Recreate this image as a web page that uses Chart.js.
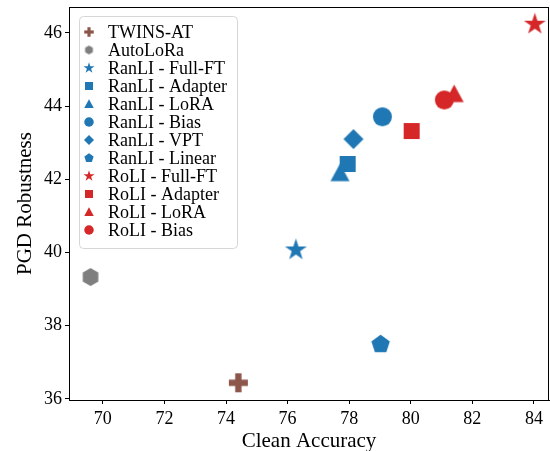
<!DOCTYPE html>
<html>
<head>
<meta charset="utf-8">
<script src="https://cdn.jsdelivr.net/npm/chart.js@4/dist/chart.umd.min.js"></script>
<style>
  html, body { margin: 0; padding: 0; background: #fff; }
</style>
</head>
<body>
<canvas id="chart" width="550" height="451"></canvas>
<script>
// values
const methods = [
  'TWINS-AT', 'AutoLoRa',
  'RanLI - Full-FT', 'RanLI - Adapter', 'RanLI - LoRA', 'RanLI - Bias', 'RanLI - VPT', 'RanLI - Linear',
  'RoLI - Full-FT', 'RoLI - Adapter', 'RoLI - LoRA', 'RoLI - Bias'
];
const cleanAccuracy = [74.4, 69.6, 76.27, 77.95, 77.7, 79.08, 78.14, 79.02, 84.03, 80.03, 81.41, 81.09];
const pgdRobustness = [36.44, 39.33, 40.07, 42.42, 42.17, 43.71, 43.1, 37.49, 46.24, 43.32, 44.33, 44.17];
const markerShapes = ['plus', 'hexagon', 'star', 'square', 'triangle', 'circle', 'diamond', 'pentagon', 'star', 'square', 'triangle', 'circle'];
const markerColors = ['#8c564b', '#7f7f7f', '#1f77b4', '#1f77b4', '#1f77b4', '#1f77b4', '#1f77b4', '#1f77b4', '#d62728', '#d62728', '#d62728', '#d62728'];
const xTicks = [70, 72, 74, 76, 78, 80, 82, 84];
const yTicks = [36, 38, 40, 42, 44, 46];

const FONT = 'Liberation Serif';
const markerSize = { plus: 19, hexagon: 18, star: 23, square: 16, triangle: 19, circle: 19, diamond: 20, pentagon: 19 };

function polygon(ctx, c, r, n, inner, rot) {
  ctx.beginPath();
  const pts = inner ? n * 2 : n;
  for (let k = 0; k < pts; k++) {
    const a = rot + k * Math.PI * 2 / pts;
    const rr = inner && k % 2 ? r * inner : r;
    const px = c + rr * Math.sin(a), py = c - rr * Math.cos(a);
    k ? ctx.lineTo(px, py) : ctx.moveTo(px, py);
  }
  ctx.closePath();
  ctx.fill();
}

function makeMarker(shape, color, size) {
  const s = Math.ceil(size) + 2;
  const cv = document.createElement('canvas');
  cv.width = s; cv.height = s;
  const ctx = cv.getContext('2d');
  ctx.fillStyle = color;
  const c = s / 2, r = size / 2;
  if (shape === 'circle') {
    ctx.beginPath(); ctx.arc(c, c, r, 0, Math.PI * 2); ctx.fill();
  } else if (shape === 'square') {
    ctx.fillRect(c - r, c - r, size, size);
  } else if (shape === 'plus') {
    const t = size / 3;
    ctx.fillRect(c - t / 2, c - r, t, size);
    ctx.fillRect(c - r, c - t / 2, size, t);
  } else if (shape === 'triangle') {
    ctx.beginPath();
    ctx.moveTo(c, c - r); ctx.lineTo(c + r, c + r * 0.85); ctx.lineTo(c - r, c + r * 0.85);
    ctx.closePath(); ctx.fill();
  } else if (shape === 'diamond') {
    polygon(ctx, c, r, 4, 0, 0);
  } else if (shape === 'pentagon') {
    polygon(ctx, c, r * 1.02, 5, 0, 0);
  } else if (shape === 'hexagon') {
    polygon(ctx, c, r, 6, 0, 0);
  } else if (shape === 'star') {
    polygon(ctx, c, r, 5, 0.382, 0);
  }
  return cv;
}

const datasets = methods.map((m, i) => {
  const size = markerSize[markerShapes[i]];
  return {
    label: m,
    data: [{ x: cleanAccuracy[i], y: pgdRobustness[i] }],
    pointStyle: makeMarker(markerShapes[i], markerColors[i], size),
    pointRadius: size / 2,
    pointHoverRadius: size / 2,
    legendMarker: makeMarker(markerShapes[i], markerColors[i], size * 0.5),
  };
});

const frame = {
  id: 'frame',
  afterDatasetsDraw(chart) {
    const { ctx, chartArea: a } = chart;
    ctx.save();
    ctx.strokeStyle = '#000';
    ctx.lineWidth = 1;
    ctx.strokeRect(a.left + 0.5, a.top + 0.5, a.right - a.left - 1, a.bottom - a.top);
    ctx.restore();
  }
};

const insideLegend = {
  id: 'insideLegend',
  afterDraw(chart) {
    const ctx = chart.ctx;
    const box = { x: 79.5, y: 16.5, w: 158, h: 232 };
    ctx.save();
    ctx.beginPath();
    ctx.roundRect(box.x, box.y, box.w, box.h, 4);
    ctx.fillStyle = 'rgba(255,255,255,0.8)';
    ctx.fill();
    ctx.strokeStyle = '#d6d6d6';
    ctx.lineWidth = 1;
    ctx.stroke();
    ctx.font = '18px "' + FONT + '"';
    ctx.fillStyle = '#000';
    ctx.textBaseline = 'middle';
    chart.data.datasets.forEach((ds, i) => {
      const y = 32 + i * 18;
      const mk = ds.legendMarker;
      ctx.drawImage(mk, 89 - mk.width / 2, y - mk.height / 2);
      ctx.fillText(ds.label, 108, y + 1);
    });
    ctx.restore();
  }
};

new Chart(document.getElementById('chart'), {
  type: 'scatter',
  data: { datasets },
  options: {
    responsive: false,
    devicePixelRatio: 1,
    animation: false,
    layout: { autoPadding: false, padding: { top: 7, right: 1, left: 0, bottom: 0 } },
    plugins: { legend: { display: false }, tooltip: { enabled: false } },
    scales: {
      x: {
        type: 'linear',
        min: 68.9,
        max: 84.49,
        afterBuildTicks: (scale) => { scale.ticks = xTicks.map(v => ({ value: v })); },
        afterFit: (scale) => {
          scale.height = 51;
          scale.paddingLeft = 0; scale.paddingRight = 0;
        },
        grid: { drawOnChartArea: false, drawTicks: true, tickLength: 4, color: '#000' },
        border: { display: true, color: '#000', width: 1 },
        ticks: { color: '#000', font: { family: FONT, size: 18 }, padding: 4, maxRotation: 0 },
        title: {
          display: true, text: 'Clean Accuracy', color: '#000',
          font: { family: FONT, size: 21, lineHeight: 1 }, padding: { top: 0, bottom: -1 }
        }
      },
      y: {
        type: 'linear',
        min: 35.97,
        max: 46.71,
        afterBuildTicks: (scale) => { scale.ticks = yTicks.map(v => ({ value: v })); },
        afterFit: (scale) => {
          scale.width = 69;
          scale.paddingTop = 0; scale.paddingBottom = 0;
        },
        grid: { drawOnChartArea: false, drawTicks: true, tickLength: 4, color: '#000' },
        border: { display: true, color: '#000', width: 1 },
        ticks: { color: '#000', font: { family: FONT, size: 18 }, padding: 3 },
        title: {
          display: true, text: 'PGD Robustness', color: '#000',
          font: { family: FONT, size: 21, lineHeight: 1 }, padding: { top: 15, bottom: 0 }
        }
      }
    }
  },
  plugins: [frame, insideLegend]
});
</script>
</body>
</html>
